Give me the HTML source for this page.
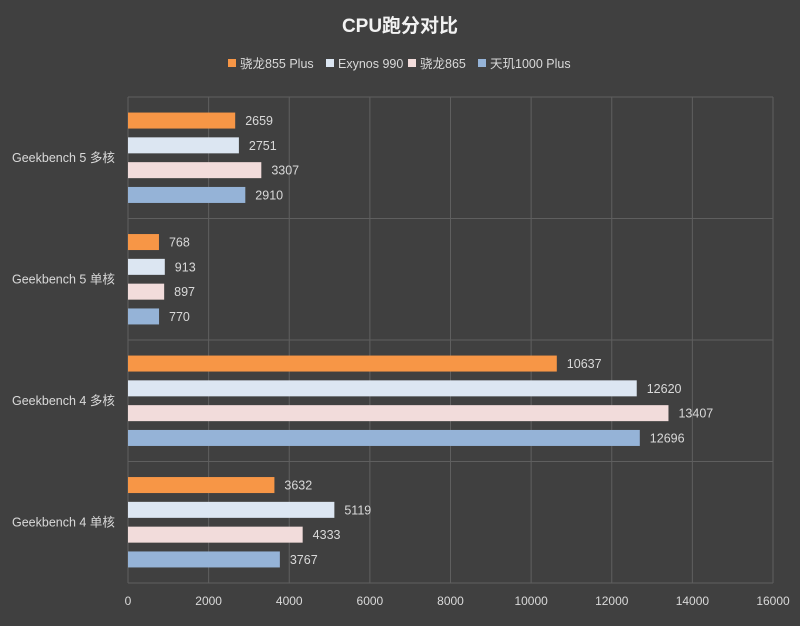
<!DOCTYPE html>
<html><head><meta charset="utf-8"><style>
body{margin:0;background:#404040;}
svg text{font-family:"Liberation Sans","Noto Sans CJK SC",sans-serif;fill:#d9d9d9;}
</style></head><body>
<svg width="800" height="621" xmlns="http://www.w3.org/2000/svg">
<rect width="800" height="621" fill="#404040"/>
<text x="400" y="32" text-anchor="middle" font-size="19" font-weight="bold" style="fill:#f2f2f2">CPU跑分对比</text>
<g id="legend"></g>
<g id="grid"></g><g id="bars"></g><g id="labels"></g>
</svg>
<script>
const categories=["Geekbench 5 多核","Geekbench 5 单核","Geekbench 4 多核","Geekbench 4 单核"];
const seriesNames=["骁龙855 Plus","Exynos 990","骁龙865","天玑1000 Plus"];
const s855=[2659,768,10637,3632];
const sExy=[2751,913,12620,5119];
const s865=[3307,897,13407,4333];
const sTj=[2910,770,12696,3767];
const ticks=[0,2000,4000,6000,8000,10000,12000,14000,16000];
const series=[s855,sExy,s865,sTj];
const colors=["#f79646","#dce6f2","#f2dcdb","#95b3d7"];
const NS="http://www.w3.org/2000/svg";
const x0=128,x1=773,y0=97,y1=583,xmax=16000;
const band=(y1-y0)/categories.length;
function xs(v){return x0+v/xmax*(x1-x0);}
function mk(t,a,p,txt){const e=document.createElementNS(NS,t);for(const k in a)e.setAttribute(k,a[k]);if(txt!=null)e.textContent=txt;p.appendChild(e);return e;}
const grid=document.getElementById('grid'),bars=document.getElementById('bars'),labels=document.getElementById('labels'),legend=document.getElementById('legend');
ticks.forEach(t=>{const x=xs(t);
 const l=mk('line',{x1:x,x2:x,y1:y0,y2:y1,stroke:'#5f5f5f','stroke-width':1},grid);
 
 
 const tx=mk('text',{x:x,y:y1+22,'text-anchor':'middle','font-size':12},labels,t);
 
 
});
for(let i=0;i<=categories.length;i++){const y=y0+i*band;
 const l=mk('line',{x1:x0,x2:x1,y1:y,y2:y,stroke:'#5f5f5f','stroke-width':1},grid);
 
 
}
categories.forEach((c,i)=>{const cy=y0+i*band+band/2;
 const t=mk('text',{x:12,y:cy+4,'font-size':12.5},labels,c);
 
 
 series.forEach((s,j)=>{const by=cy+(j-1.5)*24.8;
  const r=mk('rect',{x:x0,y:by-8,width:xs(s[i])-x0,height:16,fill:colors[j]},bars);
  
  
  const v=mk('text',{x:xs(s[i])+10,y:by+4.5,'font-size':12.5},labels,s[i]);
  
  
 });
});
const lx=[228,326,408,478];
seriesNames.forEach((n,j)=>{
 const g=mk('g',{},legend);
 
 
 mk('rect',{x:lx[j],y:59,width:8,height:8,fill:colors[j]},g);
 mk('text',{x:lx[j]+12,y:68,'font-size':12.5},g,n);
});
</script>
</body></html>
